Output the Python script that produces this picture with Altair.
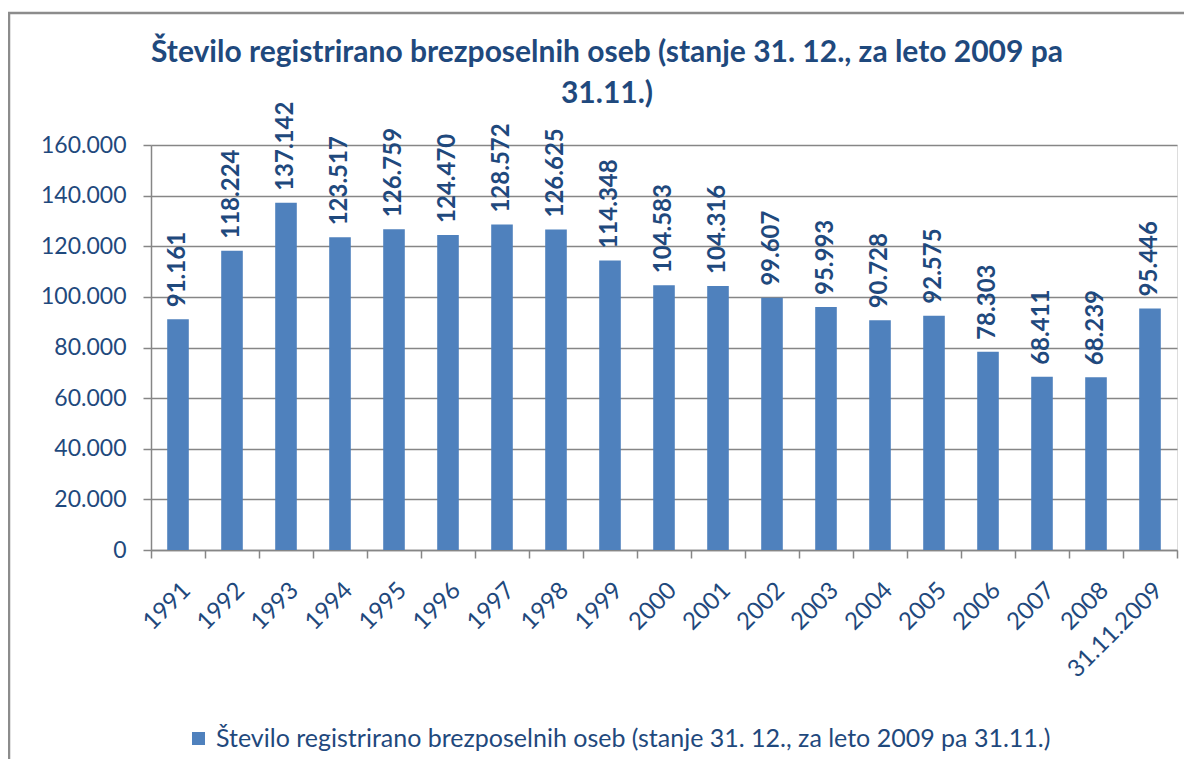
import altair as alt
import pandas as pd

categories = ["1991", "1992", "1993", "1994", "1995", "1996", "1997", "1998", "1999",
              "2000", "2001", "2002", "2003", "2004", "2005", "2006", "2007", "2008",
              "31.11.2009"]
values = [91161, 118224, 137142, 123517, 126759, 124470, 128572, 126625, 114348,
          104583, 104316, 99607, 95993, 90728, 92575, 78303, 68411, 68239, 95446]
series_name = "Število registrirano brezposelnih oseb (stanje 31. 12., za leto 2009 pa 31.11.)"
title_lines = ["Število registrirano brezposelnih oseb (stanje 31. 12., za leto 2009 pa",
               "31.11.)"]
y_ticks = [0, 20000, 40000, 60000, 80000, 100000, 120000, 140000, 160000]

df = pd.DataFrame({"leto": categories, "vrednost": values, "serija": series_name})

FONT = "Lato"
TXT = "#1F497D"
BAR = "#4F81BD"
GRID = "#868686"

x_enc = alt.X("leto:N", sort=categories, title=None,
              scale=alt.Scale(paddingInner=0, paddingOuter=0),
              axis=alt.Axis(labelAngle=-45, labelFontSize=24, labelColor=TXT, labelFont=FONT,
                            labelPadding=20, tickBand="extent", tickSize=8, tickColor=GRID,
                            domainColor=GRID, domainWidth=1.5, tickWidth=1.5, grid=False,
                            labelAlign="right", labelBaseline="top"))
y_enc = alt.Y("vrednost:Q", title=None,
              scale=alt.Scale(domain=[0, 160000], nice=False),
              axis=alt.Axis(values=y_ticks, labelFontSize=23, labelColor=TXT, labelFont=FONT,
                            labelExpr="replace(format(datum.value, ',d'), ',', '.')",
                            tickSize=8, tickColor=GRID, tickWidth=1.5, labelPadding=17,
                            domainColor=GRID, domainWidth=1.5, gridColor=GRID, gridWidth=1.5))

base = alt.Chart(df)

bars = base.mark_bar(color=BAR, width=alt.RelativeBandSize(0.4)).encode(
    x=x_enc, y=y_enc,
    color=alt.Color("serija:N", scale=alt.Scale(range=[BAR]), title=None,
                    legend=alt.Legend(orient="none", legendX=35, legendY=581,
                                      symbolType="square", symbolSize=170,
                                      symbolStrokeWidth=0, labelFontSize=25,
                                      labelColor=TXT, labelFont=FONT, labelLimit=1000,
                                      labelOffset=5))
)

labels = base.transform_calculate(
    lbl="replace(format(datum.vrednost, ',d'), ',', '.')"
).mark_text(angle=270, align="left", baseline="middle", dx=12, fontSize=24,
            fontWeight="bold", color=TXT, font=FONT).encode(
    x=alt.X("leto:N", sort=categories), y="vrednost:Q", text="lbl:N"
)

border = alt.Chart(alt.Data(values=[{"a": 1}])).mark_rect(
    fill=None, stroke="#8C8C8C", strokeWidth=2.5
).encode(x=alt.value(-142), y=alt.value(-132), x2=alt.value(1060), y2=alt.value(640))

chart = alt.layer(border, bars, labels).properties(
    width=1026, height=405,
    title=alt.Title(title_lines, anchor="middle", frame="group", dx=-57, offset=-97,
                    fontSize=30, font=FONT, fontWeight="bold", color=TXT, lineHeight=41),
    autosize=alt.AutoSizeParams(type="none"),
    padding={"left": 143, "top": 137, "right": 7, "bottom": 209}
).configure_view(stroke=None).configure(background="white")

chart.save("out.html", embed_options={"renderer": "svg", "actions": False})
